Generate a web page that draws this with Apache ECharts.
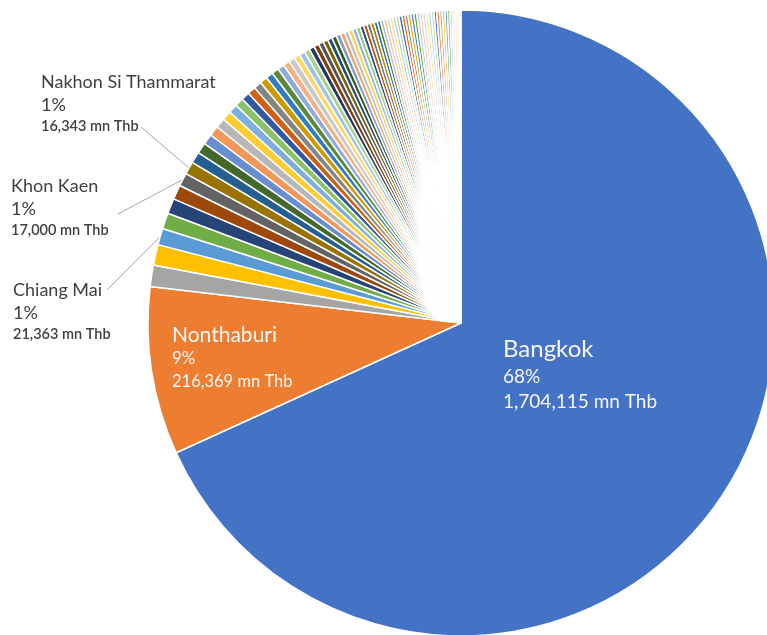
<!DOCTYPE html>
<html>
<head>
<meta charset="utf-8">
<script src="https://cdn.jsdelivr.net/npm/echarts@6/dist/echarts.min.js"></script>
<style>
  html, body { margin: 0; padding: 0; background: #ffffff; }
  #chart { width: 767px; height: 635px; }
</style>
</head>
<body>
<div id="chart"></div>
<script>
// Provinces in descending order of value (mn Thb)
const provinces = [
  'Bangkok', 'Nonthaburi', 'Samut Prakan', 'Chon Buri', 'Chiang Mai',
  'Pathum Thani', 'Songkhla', 'Nakhon Ratchasima', 'Khon Kaen', 'Nakhon Si Thammarat',
  'Phuket', 'Surat Thani', 'Udon Thani', 'Rayong', 'Phitsanulok',
  'Nakhon Pathom', 'Ubon Ratchathani', 'Samut Sakhon', 'Chiang Rai', 'Nakhon Sawan',
  'Lampang', 'Phra Nakhon Si Ayutthaya', 'Saraburi', 'Ratchaburi', 'Trang',
  'Prachuap Khiri Khan', 'Chachoengsao', 'Kanchanaburi', 'Phetchaburi', 'Buri Ram',
  'Surin', 'Roi Et', 'Sakon Nakhon', 'Chanthaburi', 'Krabi',
  'Lop Buri', 'Phetchabun', 'Suphan Buri', 'Maha Sarakham', 'Kalasin',
  'Chaiyaphum', 'Si Sa Ket', 'Yala', 'Pattani', 'Narathiwat',
  'Phatthalung', 'Nong Khai', 'Loei', 'Kamphaeng Phet', 'Sukhothai',
  'Uttaradit', 'Tak', 'Prachin Buri', 'Nakhon Nayok', 'Phichit',
  'Chumphon', 'Phrae', 'Nan', 'Phayao', 'Lamphun',
  'Satun', 'Phang Nga', 'Ranong', 'Trat', 'Sa Kaeo',
  'Nakhon Phanom', 'Mukdahan', 'Yasothon', 'Amnat Charoen', 'Nong Bua Lam Phu',
  'Bueng Kan', 'Uthai Thani', 'Chai Nat', 'Sing Buri', 'Ang Thong',
  'Samut Songkhram', 'Mae Hong Son'
];

const valuesMnThb = [
  1704115, 216369, 27800, 26500, 21363,
  20400, 19800, 18600, 17000, 16343,
  14620, 13950, 13480, 13170, 12540,
  12210, 11760, 11130, 10820, 10390,
  10060, 9740, 9380, 9050, 8690,
  8410, 8020, 7690, 7330, 6980,
  6820, 6610, 6400, 6260, 6050,
  5920, 5710, 5570, 5430, 5290,
  5150, 5010, 4870, 4730, 4600,
  4460, 4320, 4180, 4100, 4060,
  4020, 3990, 3950, 3920, 3900,
  3870, 3850, 3820, 3800, 3780,
  3750, 3720, 3700, 3670, 3640,
  3600, 3560, 3520, 3470, 3410,
  3350, 3270, 3180, 3060, 2900,
  2650, 2200
];

// Slices that carry a visible label
const labelledProvinces = ['Bangkok', 'Nonthaburi', 'Chiang Mai', 'Khon Kaen', 'Nakhon Si Thammarat'];
const insideLabelled = ['Bangkok', 'Nonthaburi'];

const unit = 'mn Thb';

// Office theme accents, cycled through shade/tint steps for long series
const accents = ['#4472C4', '#ED7D31', '#A5A5A5', '#FFC000', '#5B9BD5', '#70AD47'];
const lumSteps = [
  [1, 0], [0.6, 0], [0.8, 0.2], [0.8, 0], [0.6, 0.4], [0.5, 0], [0.7, 0.3],
  [0.7, 0], [0.5, 0.5], [0.9, 0], [0.4, 0.6], [0.9, 0.1], [0.3, 0.7]
];

function hexToHsl(hex) {
  const r = parseInt(hex.slice(1, 3), 16) / 255;
  const g = parseInt(hex.slice(3, 5), 16) / 255;
  const b = parseInt(hex.slice(5, 7), 16) / 255;
  const max = Math.max(r, g, b), min = Math.min(r, g, b);
  const l = (max + min) / 2;
  let h = 0, s = 0;
  if (max !== min) {
    const d = max - min;
    s = l > 0.5 ? d / (2 - max - min) : d / (max + min);
    if (max === r) h = (g - b) / d + (g < b ? 6 : 0);
    else if (max === g) h = (b - r) / d + 2;
    else h = (r - g) / d + 4;
    h /= 6;
  }
  return [h, s, l];
}

function hslToHex(h, s, l) {
  function hue(p, q, t) {
    if (t < 0) t += 1;
    if (t > 1) t -= 1;
    if (t < 1 / 6) return p + (q - p) * 6 * t;
    if (t < 1 / 2) return q;
    if (t < 2 / 3) return p + (q - p) * (2 / 3 - t) * 6;
    return p;
  }
  let r, g, b;
  if (s === 0) { r = g = b = l; }
  else {
    const q = l < 0.5 ? l * (1 + s) : l + s - l * s;
    const p = 2 * l - q;
    r = hue(p, q, h + 1 / 3); g = hue(p, q, h); b = hue(p, q, h - 1 / 3);
  }
  const toHex = v => Math.round(Math.min(1, Math.max(0, v)) * 255).toString(16).padStart(2, '0');
  return '#' + toHex(r) + toHex(g) + toHex(b);
}

const palette = [];
lumSteps.forEach(([mod, off]) => {
  accents.forEach(hex => {
    const [h, s, l] = hexToHsl(hex);
    palette.push(hslToHex(h, s, Math.min(1, l * mod + off)));
  });
});

const total = valuesMnThb.reduce((a, b) => a + b, 0);

const labelFont = 'Lato, "Noto Sans", sans-serif';
const insideColor = '#F7F7F7';
const outsideColor = '#404040';

const insideRich = {
  Bangkok: {
    n: { fontSize: 24, lineHeight: 29, color: insideColor, fontFamily: labelFont },
    p: { fontSize: 19, lineHeight: 25, color: insideColor, fontFamily: labelFont },
    v: { fontSize: 19, lineHeight: 26, color: insideColor, fontFamily: labelFont }
  },
  Nonthaburi: {
    n: { fontSize: 21, lineHeight: 26, color: insideColor, fontFamily: labelFont },
    p: { fontSize: 17, lineHeight: 22, color: insideColor, fontFamily: labelFont },
    v: { fontSize: 16.5, lineHeight: 23, color: insideColor, fontFamily: labelFont }
  }
};

const outsideRich = {
  n: { fontSize: 18, lineHeight: 23, color: outsideColor, fontFamily: labelFont },
  p: { fontSize: 18, lineHeight: 22, color: outsideColor, fontFamily: labelFont },
  v: { fontSize: 14.5, lineHeight: 20, color: outsideColor, fontWeight: 600, fontFamily: labelFont }
};

// Top-left corners of the label blocks, and where each leader line leaves its label
const labelSpots = {
  'Bangkok': { at: [503, 335] },
  'Nonthaburi': { at: [172, 322] },
  'Nakhon Si Thammarat': { at: [41, 71], lineFrom: [141, 127] },
  'Khon Kaen': { at: [11, 175], lineFrom: [118, 214] },
  'Chiang Mai': { at: [13, 279], lineFrom: [107, 290] }
};

function labelText(p) {
  const pct = Math.round(p.value / total * 100);
  return '{n|' + p.name + '}\n{p|' + pct + '%}\n{v|' + p.value.toLocaleString('en-US') + ' ' + unit + '}';
}

const pieData = provinces.map((name, i) => {
  const item = { name: name, value: valuesMnThb[i] };
  if (labelledProvinces.indexOf(name) >= 0) {
    const inside = insideLabelled.indexOf(name) >= 0;
    item.label = {
      show: true,
      position: inside ? 'inside' : 'outside',
      formatter: labelText,
      rich: inside ? insideRich[name] : outsideRich,
      align: 'left'
    };
    item.labelLine = { show: !inside };
  }
  return item;
});

const chart = echarts.init(document.getElementById('chart'), null, { renderer: 'canvas' });

chart.setOption({
  animation: false,
  color: palette,
  series: [{
    type: 'pie',
    center: [461, 323],
    radius: [0, 313],
    startAngle: 90,
    clockwise: true,
    avoidLabelOverlap: false,
    data: pieData,
    itemStyle: { borderColor: '#ffffff', borderWidth: 1.5 },
    label: { show: false },
    labelLine: {
      show: false,
      length: 12,
      length2: 8,
      lineStyle: { color: '#A6A6A6', width: 1 }
    },
    emphasis: { disabled: true },
    labelLayout: function (params) {
      const spot = labelSpots[provinces[params.dataIndex]];
      if (!spot) return {};
      const out = { x: spot.at[0], y: spot.at[1], align: 'left', verticalAlign: 'top' };
      if (spot.lineFrom && params.labelLinePoints) {
        // keep the anchor on the slice edge, run straight to the label
        const anchor = params.labelLinePoints[0];
        out.labelLinePoints = [anchor, spot.lineFrom, spot.lineFrom];
      }
      return out;
    }
  }]
});
</script>
</body>
</html>
